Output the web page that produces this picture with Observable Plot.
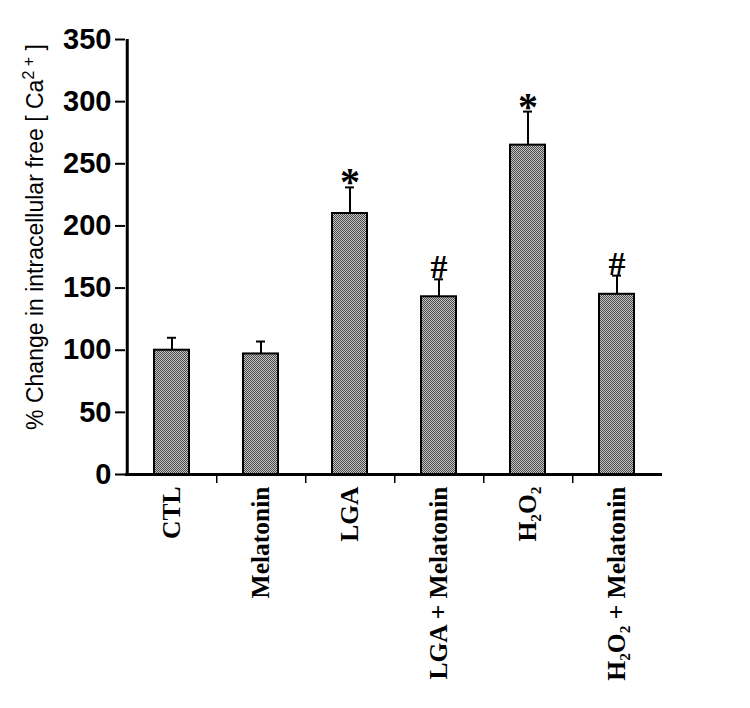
<!DOCTYPE html>
<html>
<head>
<meta charset="utf-8">
<script src="https://cdn.jsdelivr.net/npm/d3@7"></script>
<script src="https://cdn.jsdelivr.net/npm/@observablehq/plot@0.6"></script>
<style>
  body { margin: 0; background: #fff; }
  #chart svg { display: block; background: #fff; }
</style>
</head>
<body>
<div id="chart"></div>
<script>
const categories = ["CTL", "Melatonin", "LGA", "LGA + Melatonin", "H₂O₂", "H₂O₂ + Melatonin"];
const means = [100, 97, 210, 143, 265, 145];
const errors = [10, 10, 21, 14, 27, 15];
const signif = ["", "", "*", "#", "*", "#"];
const yTicks = [0, 50, 100, 150, 200, 250, 300, 350];

const data = categories.map((c, i) => ({cat: c, mean: means[i], err: errors[i], top: means[i] + errors[i], sig: signif[i]}));

const plot = Plot.plot({
  width: 750,
  height: 708,
  marginLeft: 125,
  marginRight: 88,
  marginTop: 39,
  marginBottom: 234,
  style: {background: "#fff", color: "#000"},
  x: {domain: categories, padding: 0, label: null},
  y: {domain: [0, 350], label: null},
  marks: [
    Plot.ruleX(data, {x: "cat", y1: "mean", y2: "top", stroke: "#000", strokeWidth: 2}),
    Plot.tickY(data, {x: "cat", y: "top", stroke: "#000", strokeWidth: 2, insetLeft: 40, insetRight: 40}),
    Plot.barY(data, {x: "cat", y: "mean", fill: "url(#dots)", stroke: "#000", strokeWidth: 2, insetLeft: 27, insetRight: 27}),
    Plot.text(data.filter(d => d.sig === "*"), {x: "cat", y: "top", text: "sig", dy: 8, lineAnchor: "bottom", fontFamily: "Liberation Serif", fontWeight: "bold", fontSize: 40}),
    Plot.text(data.filter(d => d.sig === "#"), {x: "cat", y: "top", text: "sig", dy: -1, lineAnchor: "bottom", fontFamily: "Liberation Serif", fontWeight: "bold", fontSize: 34}),
    Plot.axisY({ticks: yTicks, tickSize: 10, tickPadding: 4, fontFamily: "Liberation Sans, Arial", fontWeight: "bold", fontSize: 29, label: null, strokeWidth: 2}),
    Plot.axisX({ticks: categories.slice(0, 5), tickSize: 9, dx: 44.75, tickFormat: () => "", label: null, strokeWidth: 1.5}),
    Plot.axisX({tickSize: 0, tickPadding: 12, tickRotate: -90, fontFamily: "Liberation Serif", fontWeight: "bold", fontSize: 25.5, label: null}),
    Plot.ruleY([0], {stroke: "#000", strokeWidth: 3}),
    Plot.ruleX([categories[0]], {x: d => d, dx: -44.75, stroke: "#000", strokeWidth: 3})
  ]
});

// Pattern definition for the dithered bar fill
const svg = d3.select(plot);
const defs = svg.insert("defs", ":first-child");
const pat = defs.append("pattern").attr("id", "dots").attr("patternUnits", "userSpaceOnUse").attr("width", 2).attr("height", 2);
pat.append("rect").attr("width", 2).attr("height", 2).attr("fill", "#c4c4c4");
pat.append("rect").attr("x", 0).attr("y", 0).attr("width", 1).attr("height", 1).attr("fill", "#4a4a4a");
pat.append("rect").attr("x", 1).attr("y", 1).attr("width", 1).attr("height", 1).attr("fill", "#4a4a4a");

// Y axis label (rotated)
const ylab = svg.append("text")
  .attr("transform", "translate(43,237) rotate(-90)")
  .attr("text-anchor", "middle")
  .attr("font-family", "Liberation Sans, Arial")
  .attr("font-size", 23)
  .attr("fill", "#000");
ylab.append("tspan").text("% Change in intracellular free [ Ca");
ylab.append("tspan").attr("font-size", 16).attr("dy", -9).text("2");
ylab.append("tspan").attr("font-size", 16).text(" +");
ylab.append("tspan").attr("dy", 9).text(" ]");

document.getElementById("chart").appendChild(plot);
</script>
</body>
</html>
